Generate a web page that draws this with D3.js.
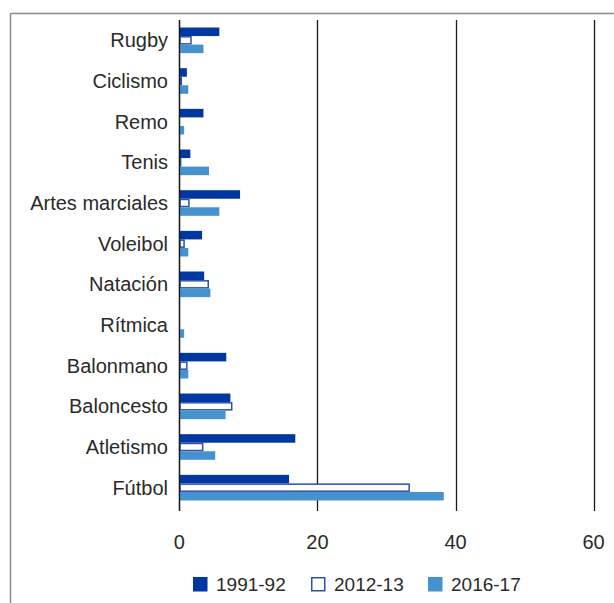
<!DOCTYPE html>
<html><head><meta charset="utf-8">
<script src="https://cdn.jsdelivr.net/npm/d3@7"></script>
<style>
html,body{margin:0;padding:0;background:#fff;}
svg{display:block;font-family:"Liberation Sans",Arial,Helvetica,sans-serif;}
</style></head>
<body>
<svg id="chart" width="614" height="603"></svg>
<script>
const categories = ["Rugby","Ciclismo","Remo","Tenis","Artes marciales","Voleibol","Natación","Rítmica","Balonmano","Baloncesto","Atletismo","Fútbol"];
const seriesNames = ["1991-92","2012-13","2016-17"];
const values1991 = [5.8, 1.1, 3.5, 1.6, 8.8, 3.3, 3.6, 0, 6.8, 7.4, 16.8, 15.9];
const values2012 = [1.8, 0.4, 0, 0.3, 1.5, 0.8, 4.3, 0, 1.2, 7.7, 3.5, 33.4];
const values2016 = [3.5, 1.3, 0.7, 4.3, 5.8, 1.3, 4.5, 0.7, 1.3, 6.7, 5.2, 38.3];
const xTicks = [0, 20, 40, 60];
const seriesValues = [values1991, values2012, values2016];
const colors = ["#0037a0", "#ffffff", "#4592cf"];
const strokeHollow = "#2c50aa";

const svg = d3.select("#chart");
const textColor = "#2a2a2a";

// frame
svg.append("line").attr("x1",10.5).attr("x2",614).attr("y1",13.5).attr("y2",13.5).attr("stroke","#8a8a8a").attr("stroke-width",1.5);
svg.append("line").attr("x1",10.5).attr("x2",10.5).attr("y1",13.5).attr("y2",603).attr("stroke","#8a8a8a").attr("stroke-width",1.5);

const x = d3.scaleLinear().domain([0,60]).range([179.3, 593.6]);
const y = d3.scaleBand().domain(categories).range([20,508]).paddingInner(0.37).paddingOuter(0.185);
const y1 = d3.scaleBand().domain(seriesNames).range([0, y.bandwidth()]);

// gridlines (incl. ticks below)
svg.append("g").selectAll("line").data(xTicks).join("line")
  .attr("x1", d => Math.round(x(d)) + 0.5).attr("x2", d => Math.round(x(d)) + 0.5)
  .attr("y1", 20).attr("y2", 511)
  .attr("stroke", "#1a1a1a").attr("stroke-width", 1.3);

// bars
const groups = svg.append("g").selectAll("g").data(categories).join("g")
  .attr("transform", d => `translate(0,${y(d)})`);

seriesNames.forEach((s, si) => {
  groups.append("rect")
    .each(function(c, ci){
      const v = seriesValues[si][ci];
      const sel = d3.select(this);
      const w = x(v) - x(0);
      if (v <= 0) { sel.remove(); return; }
      if (si === 1) {
        sel.attr("x", x(0) + 0.75).attr("y", y1(s) + 0.75)
          .attr("width", Math.max(w - 1.5, 0.5)).attr("height", y1.bandwidth() - 1.5)
          .attr("fill", "#fff").attr("stroke", strokeHollow).attr("stroke-width", 1.5);
      } else {
        sel.attr("x", x(0)).attr("y", y1(s))
          .attr("width", w).attr("height", y1.bandwidth())
          .attr("fill", colors[si]);
      }
    });
});

// axis line at 0 on top
svg.append("line").attr("x1", Math.round(x(0))+0.5).attr("x2", Math.round(x(0))+0.5)
  .attr("y1", 20).attr("y2", 511).attr("stroke", "#1a1a1a").attr("stroke-width", 1.3);

// category labels
svg.append("g").selectAll("text").data(categories).join("text")
  .attr("x", 168).attr("y", d => y(d) + y.bandwidth()/2)
  .attr("dy", "0.35em").attr("text-anchor", "end")
  .attr("font-size", 20).attr("fill", textColor).text(d => d);

// x tick labels
svg.append("g").selectAll("text").data(xTicks).join("text")
  .attr("x", d => x(d)).attr("y", 549)
  .attr("text-anchor", "middle").attr("font-size", 20).attr("fill", textColor)
  .text(d => d);

// legend
const legendX = [193, 311, 428];
const lg = svg.append("g").selectAll("g").data(seriesNames).join("g")
  .attr("transform", (d,i) => `translate(${legendX[i]},577)`);
lg.append("rect")
  .attr("x", (d,i) => i===1 ? 0.75 : 0).attr("y", (d,i) => i===1 ? 0.75 : 0)
  .attr("width", (d,i) => i===1 ? 13 : 14.5).attr("height", (d,i) => i===1 ? 13 : 14.5)
  .attr("fill", (d,i) => colors[i])
  .attr("stroke", (d,i) => i===1 ? strokeHollow : "none")
  .attr("stroke-width", 1.5);
lg.append("text").attr("x", 23).attr("y", 13.5)
  .attr("font-size", 19).attr("fill", textColor).text(d => d);
</script>
</body></html>
